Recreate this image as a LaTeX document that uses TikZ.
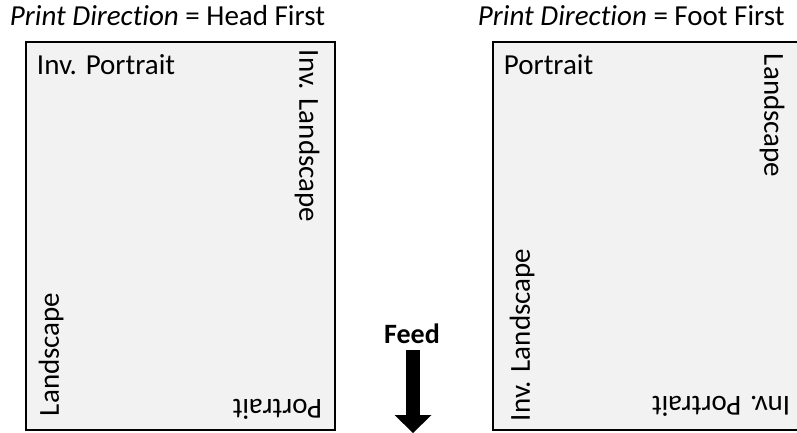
\documentclass[tikz,border=0pt]{standalone}
\usepackage{fontspec}
\setmainfont{Carlito}[Ligatures=NoCommon]
\usepackage{tikz}
\usetikzlibrary{arrows.meta, positioning}
\usepackage{xcolor}
\definecolor{paper}{HTML}{F2F2F2}
\tikzset{
    page/.style={
        rectangle, minimum width=309pt, minimum height=388pt,
        draw=black, line width=2.5pt, fill=paper, inner sep=0pt
    },
    title/.style={
        anchor=base west, inner sep=0pt, font=\fontsize{29}{35}\selectfont
    },
    orient/.style={
        anchor=base west, inner sep=0pt, font=\fontsize{29}{35}\selectfont
    },
    feedlabel/.style={
        anchor=base, inner sep=0pt, font=\fontsize{28}{34}\selectfont\bfseries
    },
    feedarrow/.style={
        -{Triangle[width=37pt, length=18pt, line width=0pt]}, line width=14pt, draw=black
    }
}

\begin{document}
\begin{tikzpicture}[x=1pt, y=1pt]

    \useasboundingbox (0,0) rectangle (797,432);
    \clip (0,0) rectangle (797,432);

    % ── Pages ──
    \node[page] (headpage) at (180.5,196) {};
    \node[page] (footpage) at (647.5,196) {};

    % ── Titles ──
    \node[title] (headtitle) at ([shift={(-15,15)}]headpage.north west)
        {\textit{Print Direction} = Head First};
    \node[title] (foottitle) at ([shift={(-14,15)}]footpage.north west)
        {\textit{Print Direction} = Foot First};

    % ── Head first labels ──
    \node[orient]             (hinvport) at ([shift={(12,-34)}]headpage.north west) {Inv. Portrait};
    \node[orient, rotate=-90] (hinvland) at ([shift={(-37,-9)}]headpage.north east)  {Inv. Landscape};
    \node[orient, rotate=90]  (hland)    at ([shift={(34,15)}]headpage.south west)   {Landscape};
    \node[orient, rotate=180] (hport)    at ([shift={(-14,32)}]headpage.south east)  {Portrait};

    % ── Foot first labels ──
    \node[orient]             (fport)    at ([shift={(12,-34)}]footpage.north west) {Portrait};
    \node[orient, rotate=-90] (fland)    at ([shift={(-39,-13)}]footpage.north east) {Landscape};
    \node[orient, rotate=90]  (finvland) at ([shift={(38,10)}]footpage.south west)  {Inv. Landscape};
    \node[orient, rotate=180] (finvport) at ([shift={(-13,35)}]footpage.south east) {Inv. Portrait};

    % ── Feed ──
    \node[feedlabel] (feed) at (412,89) {Feed};
    \coordinate (feedtip) at (413,-1);
    \draw[feedarrow] ([shift={(1,-7)}]feed.south) -- (feedtip);

\end{tikzpicture}
\end{document}
